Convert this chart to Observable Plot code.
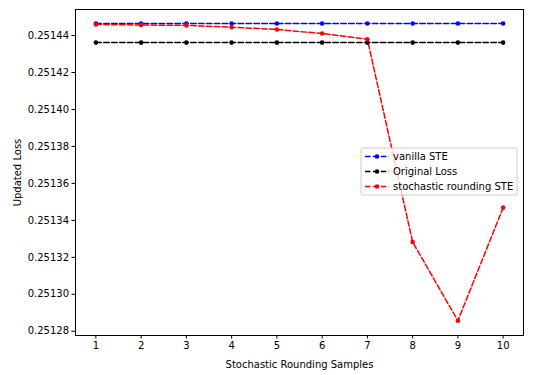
<!DOCTYPE html>
<html>
<head>
<meta charset="utf-8">
<script src="https://cdn.jsdelivr.net/npm/d3@7"></script>
<script src="https://cdn.jsdelivr.net/npm/@observablehq/plot@0.6"></script>
<style>
  html, body { margin: 0; padding: 0; background: #fff; }
  #chart { position: relative; width: 538px; height: 375px; }
  svg { font-family: "DejaVu Sans", sans-serif; }
</style>
</head>
<body>
<div id="chart"></div>
<script>
const samples = [1, 2, 3, 4, 5, 6, 7, 8, 9, 10];
const vanillaSTE = [0.2514465, 0.2514465, 0.2514465, 0.2514465, 0.2514465, 0.2514465, 0.2514465, 0.2514465, 0.2514465, 0.2514465];
const originalLoss = [0.2514362, 0.2514362, 0.2514362, 0.2514362, 0.2514362, 0.2514362, 0.2514362, 0.2514362, 0.2514362, 0.2514362];
const stochasticSTE = [0.2514460, 0.2514457, 0.2514455, 0.2514445, 0.2514433, 0.2514411, 0.2514380, 0.2513283, 0.2512857, 0.2513469];
const seriesNames = ["vanilla STE", "Original Loss", "stochastic rounding STE"];
const seriesColors = ["blue", "black", "red"];
const yTicks = [0.25128, 0.25130, 0.25132, 0.25134, 0.25136, 0.25138, 0.25140, 0.25142, 0.25144];

const seriesValues = [vanillaSTE, originalLoss, stochasticSTE];
const data = [];
seriesNames.forEach((name, i) => {
  samples.forEach((s, j) => data.push({series: name, x: s, y: seriesValues[i][j]}));
});

const dash = "5.5,2.4";
const plot = Plot.plot({
  width: 538,
  height: 375,
  marginLeft: 75,
  marginRight: 15,
  marginTop: 9,
  marginBottom: 40,
  style: {fontFamily: "DejaVu Sans, sans-serif", fontSize: "10px", color: "#000", background: "#fff"},
  x: {domain: [0.55, 10.45]},
  y: {domain: [0.2512777, 0.2514541]},
  color: {domain: seriesNames, range: seriesColors},
  marks: [
    Plot.frame({stroke: "#000", strokeWidth: 1}),
    Plot.axisX({ticks: samples, tickSize: 3.5, tickPadding: 3, tickFormat: d => String(d),
      label: "Stochastic Rounding Samples", labelAnchor: "center", labelArrow: "none", labelOffset: 32, fontSize: 10}),
    Plot.axisY({ticks: yTicks, tickSize: 3.5, tickPadding: 3, tickFormat: d3.format(".5f"),
      label: "Updated Loss", labelAnchor: "center", labelArrow: "none", labelOffset: 62, fontSize: 10}),
    Plot.line(data, {x: "x", y: "y", z: "series", stroke: "series", strokeWidth: 1.5, strokeDasharray: dash}),
    Plot.dot(data, {x: "x", y: "y", fill: "series", r: 2.3, stroke: null})
  ]
});
document.getElementById("chart").appendChild(plot);

// Legend (inside the plot area, right side)
const svg = d3.select(plot);
const lg = svg.append("g").attr("transform", "translate(361,148)").attr("text-anchor", "start");
lg.append("rect").attr("width", 156).attr("height", 47).attr("rx", 2)
  .attr("fill", "#fff").attr("fill-opacity", 0.8).attr("stroke", "#ccc");
seriesNames.forEach((name, i) => {
  const y = 8.5 + i * 15;
  lg.append("line").attr("x1", 4).attr("x2", 28).attr("y1", y).attr("y2", y)
    .attr("stroke", seriesColors[i]).attr("stroke-width", 1.5).attr("stroke-dasharray", dash);
  lg.append("circle").attr("cx", 16).attr("cy", y).attr("r", 2.3).attr("fill", seriesColors[i]);
  lg.append("text").attr("x", 32).attr("y", y).attr("dy", "0.35em").attr("text-anchor", "start")
    .attr("font-size", 10).attr("fill", "#000").text(name);
});
</script>
</body>
</html>
